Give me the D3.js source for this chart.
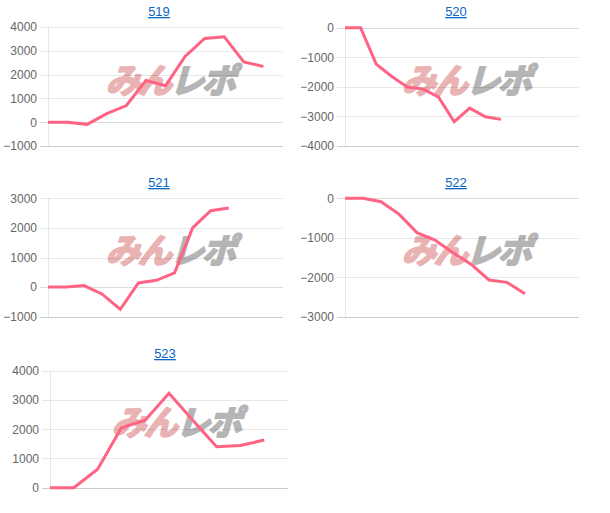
<!DOCTYPE html>
<html>
<head>
<meta charset="utf-8">
<script src="https://cdn.jsdelivr.net/npm/d3@7"></script>
<style>
  html, body { margin: 0; padding: 0; background: #fff; }
  svg { display: block; }
</style>
</head>
<body>
<svg id="chart" width="610" height="513"></svg>
<script>
// ---- data ----
const titles = ["519", "520", "521", "522", "523"];
const values519 = [0, 0, -90, 360, 700, 1750, 1530, 2760, 3520, 3590, 2530, 2340];
const values520 = [0, 0, -1230, -1650, -2010, -2070, -2350, -3180, -2720, -3010, -3100];
const values521 = [0, 0, 50, -240, -750, 140, 230, 480, 2000, 2580, 2670];
const values522 = [0, 0, -85, -400, -870, -1060, -1380, -1670, -2070, -2130, -2420];
const values523 = [0, 0, 630, 2050, 2310, 3230, 2310, 1400, 1440, 1630];
const slotCounts = [13, 16, 14, 14, 11];
const ticks519 = [-1000, 0, 1000, 2000, 3000, 4000];
const ticks520 = [-4000, -3000, -2000, -1000, 0];
const ticks521 = [-1000, 0, 1000, 2000, 3000];
const ticks522 = [-3000, -2000, -1000, 0];
const ticks523 = [0, 1000, 2000, 3000, 4000];

// ---- layout (positions only) ----
const layout = [
  { left: 48,  right: 283, top: 27,    bottom: 146,   titleX: 159, titleY: 16,  wmX: 174, wmY: 78 },
  { left: 345, right: 579, top: 27.7,  bottom: 146,   titleX: 456, titleY: 16,  wmX: 470, wmY: 78 },
  { left: 48,  right: 283, top: 198.3, bottom: 316.7, titleX: 159, titleY: 187, wmX: 174, wmY: 248 },
  { left: 345, right: 579, top: 198.3, bottom: 316.7, titleX: 456, titleY: 187, wmX: 470, wmY: 248 },
  { left: 50,  right: 288, top: 370.7, bottom: 487.7, titleX: 165, titleY: 358, wmX: 180, wmY: 420 }
];

const series = [values519, values520, values521, values522, values523];
const tickSets = [ticks519, ticks520, ticks521, ticks522, ticks523];

const svg = d3.select("#chart");
const lineColor = "rgb(255,99,132)";

series.forEach((vals, i) => {
  const L = layout[i];
  const ticks = tickSets[i];
  const g = svg.append("g");

  const x = d3.scalePoint()
    .domain(d3.range(slotCounts[i]))
    .range([L.left, L.right]);
  const y = d3.scaleLinear()
    .domain([d3.min(ticks), d3.max(ticks)])
    .range([L.bottom, L.top]);

  // title (link style)
  g.append("text")
    .attr("x", L.titleX).attr("y", L.titleY)
    .attr("text-anchor", "middle")
    .attr("font-family", "Arial, 'Liberation Sans', sans-serif")
    .attr("font-size", 13)
    .attr("fill", "#0b66c2")
    .attr("text-decoration", "underline")
    .text(titles[i]);

  // watermark
  const wm = g.append("g")
    .attr("transform", `translate(${L.wmX},${L.wmY}) skewX(-16)`);
  const wt = wm.append("text")
    .attr("text-anchor", "middle")
    .attr("dominant-baseline", "central")
    .attr("font-family", "'Noto Sans CJK JP', 'Noto Sans CJK SC', sans-serif")
    .attr("font-weight", "bold")
    .attr("font-size", 34)
    .attr("letter-spacing", -2)
    .attr("stroke-width", 2.2)
    .attr("stroke-linejoin", "round");
  wt.append("tspan").attr("fill", "#eab3b3").attr("stroke", "#eab3b3").text("みん");
  wt.append("tspan").attr("fill", "#b5b5b5").attr("stroke", "#b5b5b5").text("レポ");

  // gridlines
  const yAxis = d3.axisLeft(y)
    .tickValues(ticks)
    .tickSize(-(L.right - L.left + 8))
    .tickPadding(3)
    .tickFormat(d3.format("d"));
  const ax = g.append("g")
    .attr("transform", `translate(${L.left - 8},0)`)
    .call(yAxis);
  ax.select(".domain").remove();
  ax.selectAll(".tick line")
    .attr("stroke", d => d === d3.min(ticks) ? "rgba(0,0,0,0.2)" : (d === 0 ? "rgba(0,0,0,0.14)" : "rgba(0,0,0,0.09)"))
    .attr("stroke-width", 1)
    .attr("shape-rendering", "crispEdges");
  ax.selectAll(".tick text")
    .attr("font-family", "Arial, 'Liberation Sans', sans-serif")
    .attr("font-size", 12)
    .attr("fill", "#666");

  // y axis vertical line
  g.append("line")
    .attr("x1", L.left).attr("x2", L.left)
    .attr("y1", L.top).attr("y2", L.bottom)
    .attr("stroke", "rgba(0,0,0,0.09)")
    .attr("shape-rendering", "crispEdges");

  // data line
  const line = d3.line()
    .x((d, j) => x(j))
    .y(d => y(d));
  g.append("path")
    .datum(vals)
    .attr("d", line)
    .attr("fill", "none")
    .attr("stroke", lineColor)
    .attr("stroke-width", 3)
    .attr("stroke-linejoin", "miter");
});
</script>
</body>
</html>
